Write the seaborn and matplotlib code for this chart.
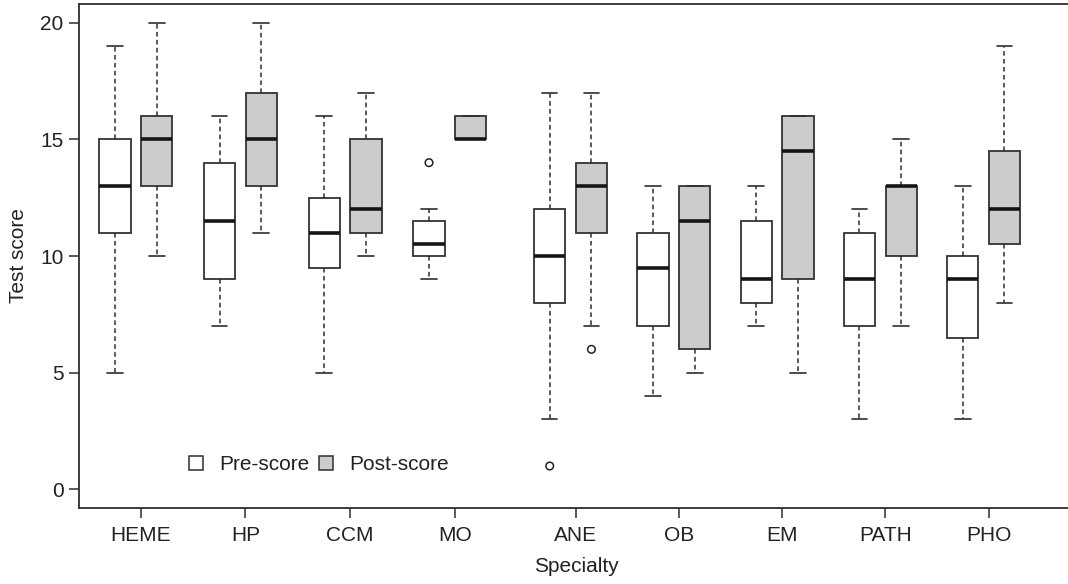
import numpy as np
import pandas as pd
import matplotlib
matplotlib.use("Agg")
import matplotlib.pyplot as plt
from matplotlib.patches import Patch
import seaborn as sns

# ---------------- data ----------------
specialties = ["HEME", "HP", "CCM", "MO", "ANE", "OB", "EM", "PATH", "PHO"]

pre_min = [5, 7, 5, 9, 3, 4, 7, 3, 3]
pre_q1 = [11, 9, 9.5, 10, 8, 7, 8, 7, 6.5]
pre_med = [13, 11.5, 11, 10.5, 10, 9.5, 9, 9, 9]
pre_q3 = [15, 14, 12.5, 11.5, 12, 11, 11.5, 11, 10]
pre_max = [19, 16, 16, 12, 17, 13, 13, 12, 13]

post_min = [10, 11, 10, 15, 7, 5, 5, 7, 8]
post_q1 = [13, 13, 11, 15, 11, 6, 9, 10, 10.5]
post_med = [15, 15, 12, 15, 13, 11.5, 14.5, 13, 12]
post_q3 = [16, 17, 15, 16, 14, 13, 16, 13, 14.5]
post_max = [20, 20, 17, 16, 17, 13, 16, 15, 19]

outlier_specialty = ["MO", "ANE", "ANE"]
outlier_kind = ["Pre-score", "Pre-score", "Post-score"]
outlier_value = [14, 1, 6]

yticks = [0, 5, 10, 15, 20]

# ---------------- layout ----------------
group_pos = [1.0, 2.007, 3.016, 4.025, 5.188, 6.183, 7.178, 8.172, 9.167]
post_offset = 0.402
tick_offset = 0.25
box_w = 0.30

kinds = ["Pre-score", "Post-score"]
stats = {
    "Pre-score": [pre_min, pre_q1, pre_med, pre_q3, pre_max],
    "Post-score": [post_min, post_q1, post_med, post_q3, post_max],
}
rows = []
for i, sp in enumerate(specialties):
    for k in kinds:
        pos = round(group_pos[i] + (post_offset if k == "Post-score" else 0.0), 4)
        for arr in stats[k]:
            rows.append({"pos": pos, "score": arr[i], "kind": k, "specialty": sp})
df = pd.DataFrame(rows)

out_x = [round(group_pos[specialties.index(s)] + (post_offset if k == "Post-score" else 0.0), 4)
         for s, k in zip(outlier_specialty, outlier_kind)]

sns.set_style("white")
plt.rcParams["font.family"] = ["Liberation Sans", "DejaVu Sans"]

W, H = 1068, 584
fig = plt.figure(figsize=(W / 100, H / 100), dpi=100)
ax = fig.add_axes([79 / W, (H - 508) / H, 994 / W, 504 / H])

dark = "#2e2e2e"
fs = 15
native_w = np.nanmin(np.diff(np.unique(df["pos"])))
sns.boxplot(
    data=df, x="pos", y="score", hue="kind", hue_order=kinds,
    native_scale=True, dodge=False,
    palette={"Pre-score": "white", "Post-score": "#cccccc"},
    saturation=1, width=box_w / native_w, whis=(0, 100), showfliers=False,
    linecolor="#333333", linewidth=1.3,
    medianprops={"color": "#151515", "linewidth": 2.6},
    whiskerprops={"linestyle": (0, (3.0, 2.2)), "linewidth": 1.1, "color": dark},
    capprops={"linewidth": 1.2, "color": dark},
    legend=False, ax=ax,
)

sns.scatterplot(x=out_x, y=outlier_value, marker="o", s=30,
                facecolor="none", edgecolor="#222222", linewidth=1.1,
                legend=False, ax=ax, zorder=4)

ax.set_xlim(1 + (79 - 115) / 103.8, 1 + (1073 - 115) / 103.8)
ax.set_ylim(-0.8, 20.8)
ax.set_xticks([p + tick_offset for p in group_pos])
ax.set_xticklabels(specialties)
ax.set_yticks(yticks)
ax.set_yticklabels([str(v) for v in yticks])

ax.tick_params(axis="both", length=7, width=1.1, color=dark, labelsize=fs,
               labelcolor="#222222")
ax.tick_params(axis="y", pad=4)
ax.tick_params(axis="x", pad=6)
ax.tick_params(left=True, bottom=True)

for side in ["top", "left", "bottom"]:
    ax.spines[side].set_visible(True)
    ax.spines[side].set_color(dark)
    ax.spines[side].set_linewidth(1.3)
ax.spines["right"].set_visible(False)

ax.set_xlabel("Specialty", fontsize=fs, color="#222222")
ax.set_ylabel("Test score", fontsize=fs, color="#222222")
ax.xaxis.set_label_coords(0.5, (508 - 557) / 504)
ax.yaxis.set_label_coords((28 - 79) / 994, 0.5)

handles = [Patch(facecolor="white", edgecolor=dark, linewidth=1.1),
           Patch(facecolor="#cccccc", edgecolor=dark, linewidth=1.1)]
ax.legend(handles, kinds, loc="center left",
          bbox_to_anchor=(189 / W, 1 - 465 / H), bbox_transform=fig.transFigure,
          ncol=2, frameon=False, fontsize=fs, handlelength=0.66, handleheight=0.66,
          handletextpad=0.8, columnspacing=0.45, borderpad=0, borderaxespad=0,
          labelcolor="#222222")

fig.savefig("out.png", dpi=100)
